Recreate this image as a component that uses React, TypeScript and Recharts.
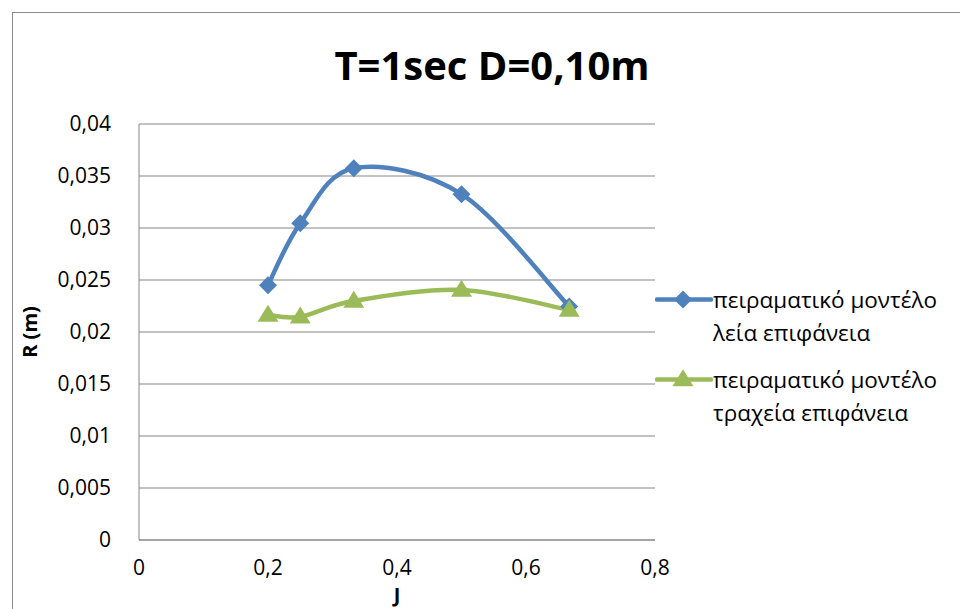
import React from 'react';
import { LineChart, Line, XAxis, YAxis, CartesianGrid, Label } from 'recharts';

const jValues = [0.2, 0.25, 0.333, 0.5, 0.667];
const smoothValues = [0.0245, 0.03045, 0.03575, 0.03325, 0.02245];
const roughValues = [0.02163, 0.02147, 0.02298, 0.02404, 0.02212];
const xTicks = [0, 0.2, 0.4, 0.6, 0.8];
const yTicks = [0, 0.005, 0.01, 0.015, 0.02, 0.025, 0.03, 0.035, 0.04];
const seriesNames = ['πειραματικό μοντέλο λεία επιφάνεια', 'πειραματικό μοντέλο τραχεία επιφάνεια'];
const legendLines = [
  ['πειραματικό μοντέλο', 'λεία επιφάνεια'],
  ['πειραματικό μοντέλο', 'τραχεία επιφάνεια'],
];

const data = jValues.map((j, i) => ({ j, smooth: smoothValues[i], rough: roughValues[i] }));

const BLUE = '#4F81BD';
const GREEN = '#9BBB59';
const GRID = '#868686';
const FONT = '"Open Sans", sans-serif';

const excelCurve = (context: any) => {
  let pts: number[][] = [];
  return {
    areaStart() {},
    areaEnd() {},
    lineStart() {
      pts = [];
    },
    point(x: number, y: number) {
      pts.push([+x, +y]);
    },
    lineEnd() {
      const n = pts.length;
      if (!n) return;
      context.moveTo(pts[0][0], pts[0][1]);
      for (let i = 0; i < n - 1; i++) {
        const p0 = pts[Math.max(i - 1, 0)];
        const p1 = pts[i];
        const p2 = pts[i + 1];
        const p3 = pts[Math.min(i + 2, n - 1)];
        context.bezierCurveTo(
          p1[0] + (p2[0] - p0[0]) / 6,
          p1[1] + (p2[1] - p0[1]) / 6,
          p2[0] - (p3[0] - p1[0]) / 6,
          p2[1] - (p3[1] - p1[1]) / 6,
          p2[0],
          p2[1]
        );
      }
    },
  };
};

const diamondPath = (cx: number, cy: number, r: number) =>
  `M${cx},${cy - r}L${cx + r},${cy}L${cx},${cy + r}L${cx - r},${cy}Z`;
const trianglePath = (cx: number, cy: number, w: number, h: number) =>
  `M${cx},${cy - h * 0.6}L${cx + w / 2},${cy + h * 0.4}L${cx - w / 2},${cy + h * 0.4}Z`;

const DiamondDot = (props: any) => {
  const { cx, cy, index } = props;
  if (cx == null || cy == null) return <g key={`d${index}`} />;
  return <path key={`d${index}`} d={diamondPath(cx, cy, 9)} fill={BLUE} />;
};
const TriangleDot = (props: any) => {
  const { cx, cy, index } = props;
  if (cx == null || cy == null) return <g key={`t${index}`} />;
  return <path key={`t${index}`} d={trianglePath(cx, cy, 21, 17)} fill={GREEN} />;
};

const fmt = (v: number) => String(v).replace('.', ',');

const LegendBox = () => (
  <div
    style={{
      position: 'absolute',
      left: 655,
      top: 283,
      width: 305,
      fontFamily: FONT,
      fontSize: 22.5,
      color: '#000',
      lineHeight: '33px',
      whiteSpace: 'nowrap',
    }}
  >
    {legendLines.map((lines, i) => (
      <div key={i} style={{ display: 'flex', alignItems: 'flex-start', marginBottom: i === 0 , marginTop: i === 1 ? 14 : 0 } as any}>
        <svg width={58} height={33} style={{ flex: 'none' }}>
          <line x1={2} y1={16.5} x2={56} y2={16.5} stroke={i === 0 ? BLUE : GREEN} strokeWidth={4.5} strokeLinecap="round" />
          {i === 0 ? (
            <path d={diamondPath(28, 16.5, 9)} fill={BLUE} />
          ) : (
            <path d={trianglePath(28, 16.5, 21, 17)} fill={GREEN} />
          )}
        </svg>
        <div>
          <div>{lines[0]}</div>
          <div>{lines[1]}</div>
        </div>
      </div>
    ))}
  </div>
);

export default function App() {
  return (
    <div style={{ position: 'absolute', left: 0, top: 0, width: 960, height: 609, overflow: 'hidden', background: '#fff' }}>
      <div style={{ position: 'absolute', left: 12, top: 12, width: 1000, height: 700, border: '1.5px solid #8a8a8a' }} />
      <div
        style={{
          position: 'absolute',
          left: 12,
          width: 960,
          top: 37,
          textAlign: 'center',
          fontFamily: FONT,
          fontWeight: 700,
          fontSize: 40,
          color: '#000',
          lineHeight: '56px',
        }}
      >
        T=1sec D=0,10m
      </div>
      <div style={{ position: 'absolute', left: 0, top: 0 }}>
        <LineChart width={960} height={609} data={data} margin={{ top: 124, right: 305, left: 79, bottom: 29 }}>
          <CartesianGrid vertical={false} stroke={GRID} strokeWidth={1} />
          <XAxis
            dataKey="j"
            type="number"
            domain={[0, 0.8]}
            ticks={xTicks}
            tickFormatter={fmt}
            axisLine={{ stroke: GRID }}
            tickLine={false}
            height={40}
            tick={{ fill: '#000', fontSize: 21, fontFamily: FONT }}
            tickMargin={14}
          >
            <Label value="J" position="insideBottom" offset={-22} style={{ fontFamily: FONT, fontSize: 20, fontWeight: 700, fill: '#000' }} />
          </XAxis>
          <YAxis
            type="number"
            domain={[0, 0.04]}
            ticks={yTicks}
            tickFormatter={fmt}
            axisLine={{ stroke: GRID }}
            tickLine={false}
            width={60}
            tick={{ fill: '#000', fontSize: 21, fontFamily: FONT }}
            tickMargin={22}
          >
            <Label
              value="R (m)"
              angle={-90}
              position="insideLeft"
              offset={-49}
              style={{ fontFamily: FONT, fontSize: 20, fontWeight: 700, fill: '#000', textAnchor: 'middle' }}
            />
          </YAxis>
          <Line
            dataKey="smooth"
            name={seriesNames[0]}
            type={excelCurve as any}
            stroke={BLUE}
            strokeWidth={4.5}
            dot={DiamondDot}
            activeDot={false}
            isAnimationActive={false}
          />
          <Line
            dataKey="rough"
            name={seriesNames[1]}
            type={excelCurve as any}
            stroke={GREEN}
            strokeWidth={4.5}
            dot={TriangleDot}
            activeDot={false}
            isAnimationActive={false}
          />
        </LineChart>
      </div>
      <LegendBox />
    </div>
  );
}
